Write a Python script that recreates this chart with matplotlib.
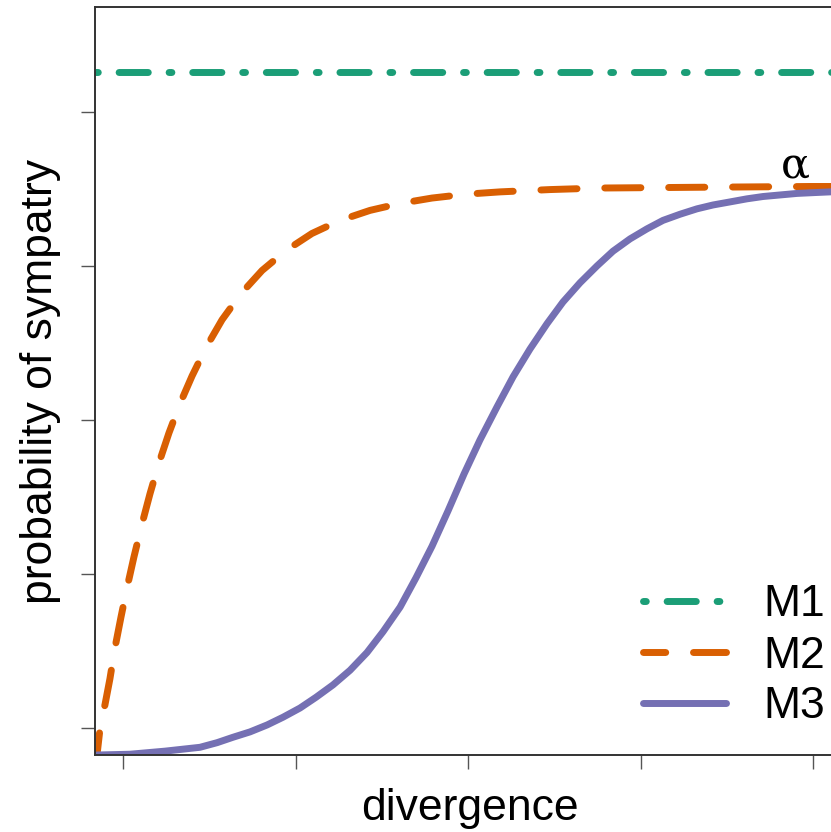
import numpy as np
import matplotlib.pyplot as plt

plt.rcParams['font.family'] = ['Liberation Sans', 'DejaVu Sans']
plt.rcParams['lines.scale_dashes'] = False

# probability of sympatry vs divergence for the three models
m1_level = 0.886
alpha_level = 0.738

m2_div = [0.0, 0.023, 0.046, 0.075, 0.104, 0.139, 0.174, 0.214, 0.261, 0.307,
          0.359, 0.417, 0.481, 0.551, 0.632, 0.725, 0.835, 0.957, 1.096, 1.246,
          1.409, 1.583, 1.757, 1.942, 2.139, 2.336, 2.626, 2.916, 3.496, 4.133,
          4.336]
m2_prob = [0.0, 0.045, 0.065, 0.099, 0.139, 0.179, 0.217, 0.257, 0.300, 0.339,
           0.379, 0.418, 0.456, 0.492, 0.529, 0.565, 0.599, 0.629, 0.655, 0.677,
           0.694, 0.707, 0.716, 0.723, 0.728, 0.731, 0.734, 0.736, 0.737, 0.738,
           0.738]

m3_div = [0.0, 0.191, 0.394, 0.597, 0.696, 0.788, 0.887, 0.986, 1.078, 1.177,
          1.270, 1.368, 1.467, 1.565, 1.658, 1.757, 1.849, 1.942, 2.035, 2.128,
          2.220, 2.319, 2.412, 2.510, 2.609, 2.701, 2.800, 2.899, 2.991, 3.090,
          3.188, 3.281, 3.380, 3.478, 3.571, 3.670, 3.768, 3.861, 3.959, 4.058,
          4.151, 4.249, 4.336]
m3_prob = [0.0, 0.001, 0.005, 0.010, 0.016, 0.023, 0.030, 0.039, 0.049, 0.061,
           0.075, 0.091, 0.110, 0.133, 0.160, 0.192, 0.230, 0.271, 0.317, 0.365,
           0.409, 0.452, 0.491, 0.527, 0.560, 0.588, 0.613, 0.635, 0.654, 0.670,
           0.683, 0.694, 0.702, 0.709, 0.714, 0.718, 0.722, 0.725, 0.727, 0.729,
           0.730, 0.731, 0.732]

labels = ['M1', 'M2', 'M3']
colors = ['#1B9E77', '#D95F02', '#7570B3']

W, H = 831, 832
fig = plt.figure(figsize=(W / 100, H / 100), dpi=100)
# axes box runs past the right edge of the figure
ax = fig.add_axes([95 / W, 77 / H, 750 / W, 748 / H])

lw = 5
ax.axhline(m1_level, color=colors[0], lw=lw, dash_capstyle='round',
           linestyle=(0, (2, 15, 21, 15)), label=labels[0])
ax.plot(m2_div, m2_prob, color=colors[1], lw=lw, dash_capstyle='round',
        solid_joinstyle='round', linestyle=(10, (26, 20)), label=labels[1])
ax.plot(m3_div, m3_prob, color=colors[2], lw=lw, solid_capstyle='round',
        solid_joinstyle='round', label=labels[2])

ax.text(4.046, alpha_level + 0.027, 'α', fontsize=31, family='DejaVu Serif',
        ha='center', va='center')

ax.set_xlim(-0.0116, 4.336)
ax.set_ylim(0, 0.971)
ax.set_xticks(0.151 + np.arange(5))
ax.set_yticks(0.035 + 0.2 * np.arange(5))
ax.set_xticklabels([])
ax.set_yticklabels([])
ax.tick_params(direction='out', length=10, width=1, color='#555555')
for s in ax.spines.values():
    s.set_color('#333333')
    s.set_linewidth(1.4)

ax.set_xlabel('divergence', fontsize=32, labelpad=10)
ax.set_ylabel('probability of sympatry', fontsize=32, labelpad=11)

ax.legend(loc='center left', bbox_to_anchor=(643 / W, 1 - 656 / H),
          bbox_transform=fig.transFigure, frameon=False, fontsize=32,
          handlelength=1.87, handletextpad=0.83, labelspacing=0.225,
          borderpad=0, borderaxespad=0)

plt.savefig('out.png', dpi=100)
